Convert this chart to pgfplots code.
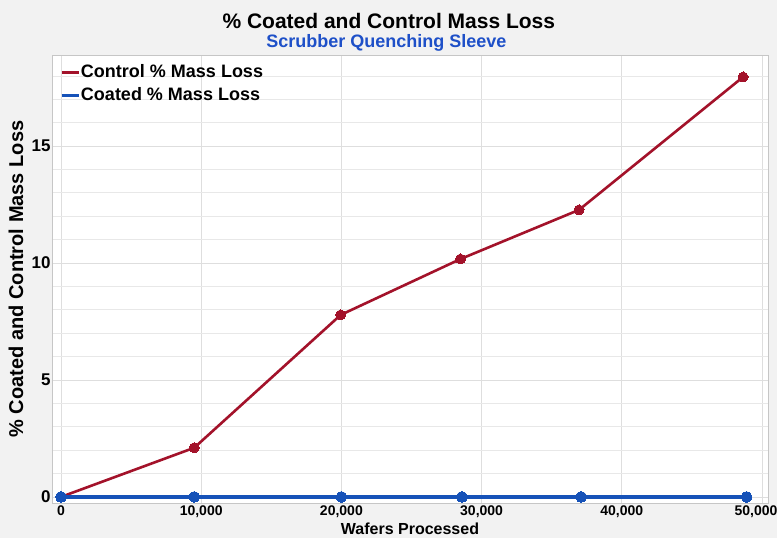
\documentclass[border=0pt]{standalone}
\usepackage{pgfplots}
\pgfplotsset{compat=1.18}
\usepackage{fontspec}
\setmainfont{Liberation Sans}
\definecolor{ctrl}{RGB}{163,18,42}
\definecolor{coat}{RGB}{22,82,184}
\definecolor{subt}{RGB}{30,80,200}
\definecolor{bgout}{RGB}{242,242,242}
\definecolor{gridc}{RGB}{222,222,222}

\begin{document}
\begin{tikzpicture}
\fill[bgout] (-52pt,-35pt) rectangle (725pt,503pt);
\begin{axis}[
    at={(0,0)}, anchor=south west,
    scale only axis, width=716pt, height=448pt,
    xmin=-642, xmax=50428, ymin=-0.26, ymax=18.89,
    axis background/.style={fill=white},
    axis line style={draw=gray!45, line width=0.8pt},
    xtick={0,10000,20000,30000,40000,50000},
    xticklabels={0,{10,000},{20,000},{30,000},{40,000},{\hspace*{-12pt}50,000}},
    ytick={0,5,10,15},
    minor ytick={1,2,3,4,6,7,8,9,11,12,13,14,16,17,18},
    scaled x ticks=false,
    /pgf/number format/assume math mode=true,
    xticklabel style={font=\bfseries\fontsize{14}{14}\selectfont, yshift=1pt},
    yticklabel style={font=\bfseries\fontsize{17}{17}\selectfont, xshift=2pt},
    major tick length=0pt, minor tick length=0pt,
    grid=both,
    major grid style={draw=gridc, line width=0.7pt},
    minor grid style={draw=gridc!70, line width=0.6pt},
    xlabel={Wafers Processed},
    xlabel style={font=\bfseries\fontsize{16}{16}\selectfont, at={(axis description cs:0.5,0)}, anchor=center, yshift=-26pt},
    ylabel={\% Coated and Control Mass Loss},
    ylabel style={font=\bfseries\fontsize{20}{20}\selectfont, at={(axis description cs:0,0.5)}, anchor=center, yshift=36pt},
    legend style={at={(axis description cs:0,1)}, anchor=north west, draw=none, fill=none, inner sep=0pt,
        font=\bfseries\fontsize{18}{18}\selectfont, xshift=8pt, yshift=-6pt,
        nodes={text height=12pt, text depth=3pt, inner ysep=4pt, inner xsep=1pt}},
    legend cell align=left,
    legend image code/.code={\draw[#1, mark=none, line width=2.8pt] (0pt,0pt) -- (17pt,0pt);},
    clip=false,
]
\addplot[color=ctrl, line width=2.6pt, mark=*, mark size=5pt, mark options={solid, line width=0pt}]
    coordinates {(0,0) (9500,2.1) (19950,7.78) (28500,10.17) (36950,12.27) (48650,17.95)};
\addlegendentry{Control \% Mass Loss}
\addplot[color=coat, line width=3.2pt, mark=*, mark size=5.4pt, mark options={solid, line width=0pt}]
    coordinates {(0,0) (9500,0) (20000,0) (28600,0) (37100,0) (48900,0)};
\addlegendentry{Coated \% Mass Loss}
\node[font=\bfseries\fontsize{21}{21}\selectfont, anchor=center] at ([yshift=34.5pt]axis description cs:0.4704,1) {\% Coated and Control Mass Loss};
\node[font=\bfseries\fontsize{18}{18}\selectfont, text=subt, anchor=center] at ([yshift=12pt]axis description cs:0.467,1) {Scrubber Quenching Sleeve};
\end{axis}
\pgfresetboundingbox
\path[use as bounding box] (-52pt,-35pt) rectangle (725pt,503pt);
\end{tikzpicture}
\end{document}
